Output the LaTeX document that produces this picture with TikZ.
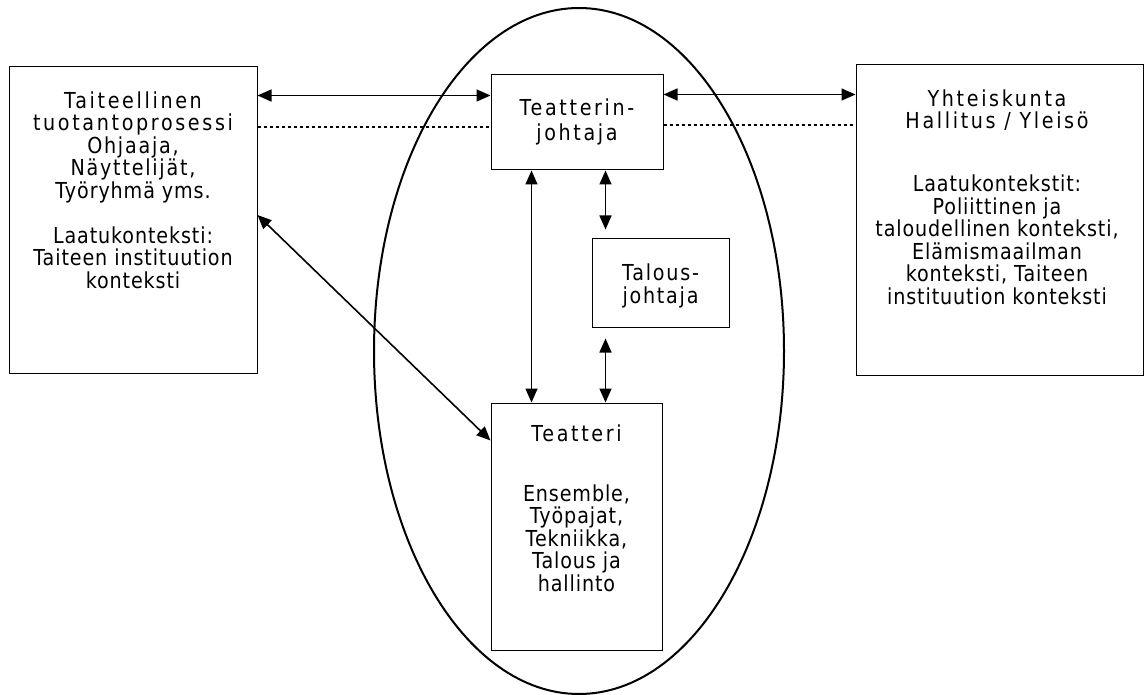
\documentclass[tikz,border=0pt]{standalone}
\usepackage{fontspec}
\setmainfont{DejaVu Sans}[FakeStretch=0.87]
\newfontfamily\bodyfam{DejaVu Sans}[FakeStretch=0.87, LetterSpace=4]
\newfontfamily\headfam{DejaVu Sans}[FakeStretch=0.87, LetterSpace=12]
\newfontfamily\midfam{DejaVu Sans}[FakeStretch=0.87, LetterSpace=8]
\newcommand{\txbody}{\bodyfam\fontsize{22pt}{22.5pt}\selectfont}
\newcommand{\txhead}{\headfam\fontsize{22pt}{22.5pt}\selectfont}
\newcommand{\txmidl}{\midfam\fontsize{22pt}{22.5pt}\selectfont}
\newcommand{\txbox}{\headfam\fontsize{22pt}{25pt}\selectfont}
\newcommand{\txmid}{\midfam\fontsize{22pt}{23pt}\selectfont}
\usetikzlibrary{arrows.meta,calc}
\begin{document}
\begin{tikzpicture}[x=1pt,y=-1pt,
  box/.style={draw, line width=1pt, rectangle, inner sep=0pt},
  txt/.style={align=center, inner sep=0pt, font=\txbody},
  dbl/.style={{Triangle[length=14pt,width=12pt]}-{Triangle[length=14pt,width=12pt]}, line width=1.6pt},
  dots/.style={line width=1.3pt, dash pattern=on 3pt off 3pt}]
\useasboundingbox (0,0) rectangle (1144,695);
% ellipse
\draw[line width=2pt] (579,351) ellipse [x radius=205, y radius=343];
% boxes
\node[box, minimum width=248pt, minimum height=306pt] (L) at (133,220) {};
\node[box, minimum width=172pt, minimum height=95pt] (TJ) at (577,122.5) {};
\node[box, minimum width=137pt, minimum height=88pt] (TA) at (660.5,283) {};
\node[box, minimum width=287pt, minimum height=310pt] (R) at (999.5,220) {};
\node[box, minimum width=171pt, minimum height=247pt] (T) at (576.5,526.5) {};
% texts
\node[txt, font=\txbox] (TJtx) at (577,122) {Teatterin-\\johtaja};
\node[txt, font=\txmid] (TAtx) at (660.5,286) {Talous-\\johtaja};
\node[txt] (Ltx) at (133,190) {\txhead Taiteellinen\\\txhead tuotantoprosessi\\\txmidl Ohjaaja,\\\txmidl Näyttelijät,\\\txbody Työryhmä yms.\\[22.5pt]\txbody Laatukonteksti:\\\txbody Taiteen instituution\\\txbody konteksti};
\node[txt] (Rtx) at (997,197) {\txhead Yhteiskunta\\\txhead Hallitus / Yleisö\\[40.5pt]\txbody Laatukontekstit:\\\txbody Poliittinen ja\\\txbody taloudellinen konteksti,\\\txbody Elämismaailman\\\txbody konteksti, Taiteen\\\txbody instituution konteksti};
\node[txt] (Ttx) at (576.5,508) {\txhead Teatteri\\[37.5pt]\txbody Ensemble,\\\txbody Työpajat,\\\txbody Tekniikka,\\\txbody Talous ja\\\txbody hallinto};
% connectors
\coordinate (a1) at ([yshift=-21pt]TJ.north west);
\draw[dbl] (L.east |- a1) -- (a1);
\coordinate (a2) at ([yshift=-20pt]TJ.north east);
\draw[dbl] (a2) -- (R.west |- a2);
\coordinate (d1) at ([yshift=-4.5pt]TJ.west);
\draw[dots] (L.east |- d1) -- (d1);
\coordinate (d2) at ([yshift=-2.5pt]TJ.east);
\draw[dots] (d2) -- (R.west |- d2);
\coordinate (v1) at ([xshift=41pt]TJ.south west);
\draw[dbl] (v1) -- (v1 |- T.north);
\coordinate (v2) at ([xshift=115pt]TJ.south west);
\draw[dbl] (v2) -- ([yshift=9pt]v2 |- TA.north);
\draw[dbl] ([yshift=-11pt]v2 |- TA.south) -- (v2 |- T.north);
\draw[dbl] ([yshift=5pt]L.east) -- ([yshift=-38pt]T.north west);
\end{tikzpicture}
\end{document}
